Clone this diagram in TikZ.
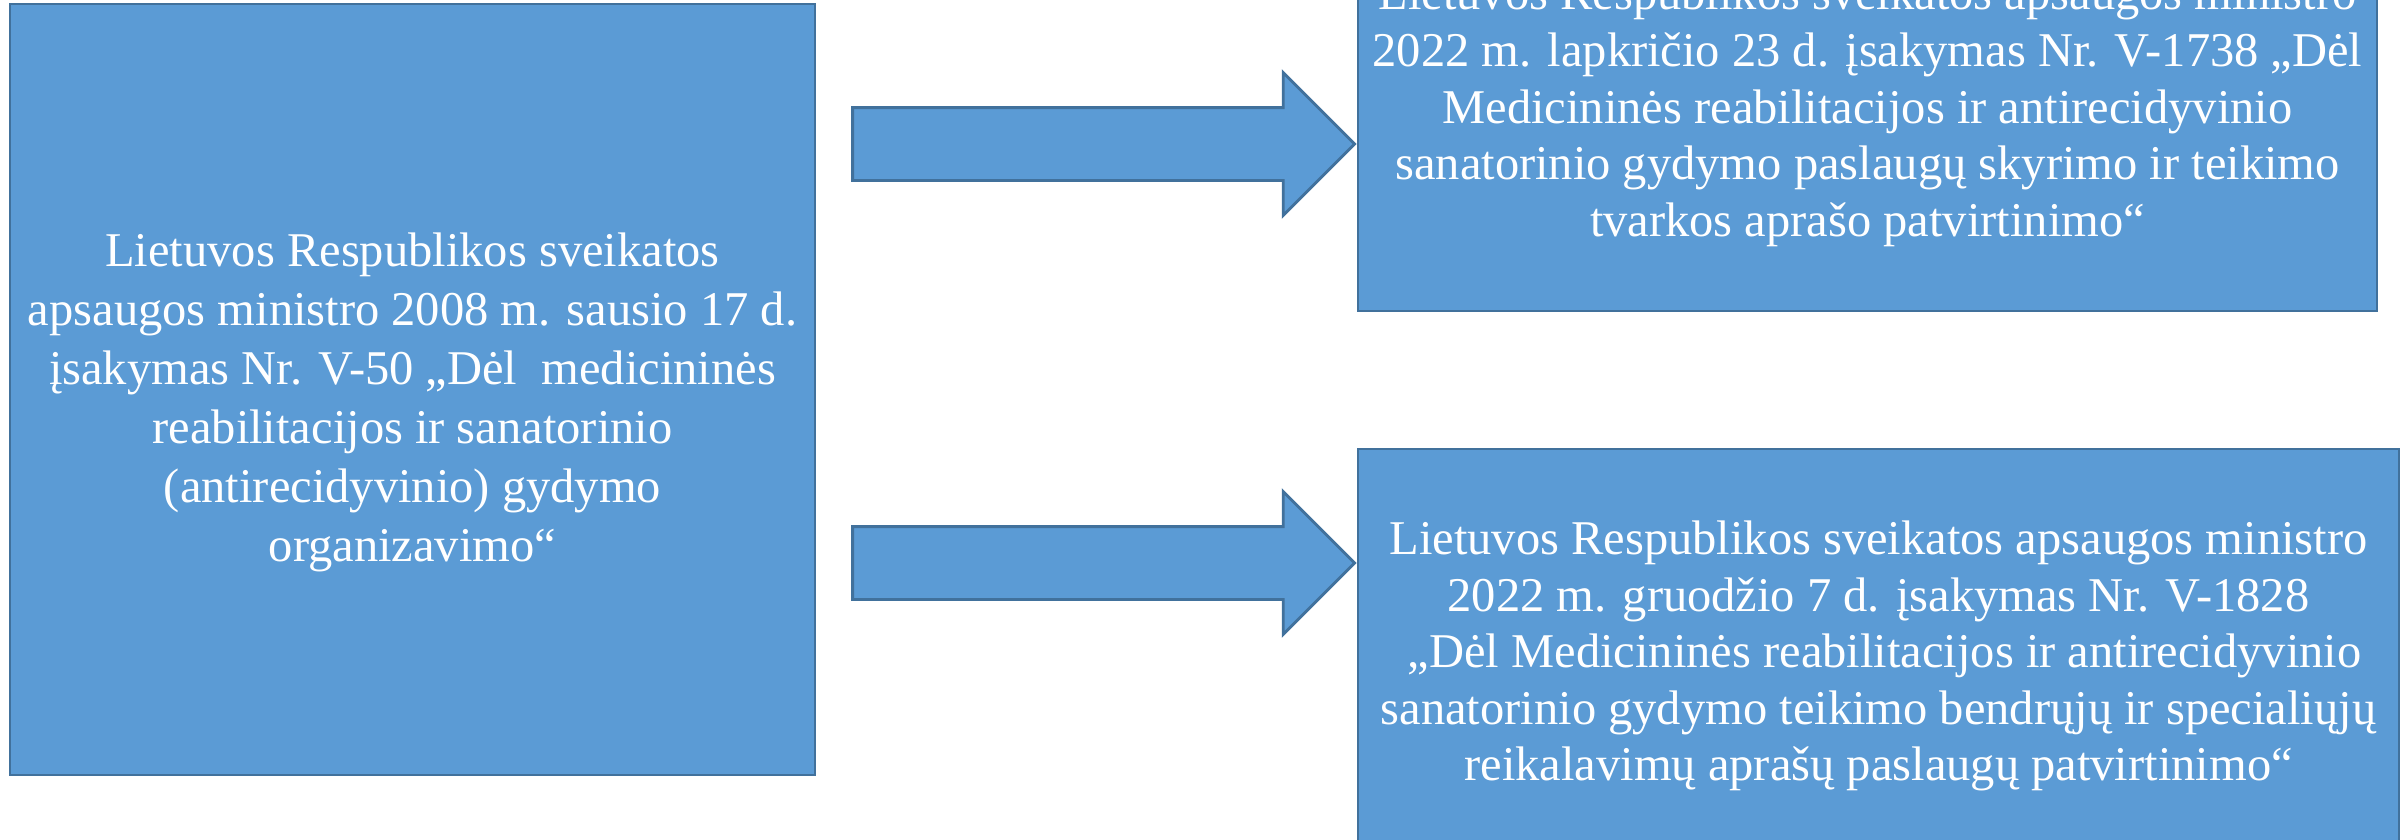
\documentclass[tikz,border=0pt]{standalone}
\usepackage{fontspec}
\setmainfont{Liberation Serif}
\usetikzlibrary{shapes.arrows, calc}
\definecolor{boxblue}{HTML}{5B9BD5}
\definecolor{boxline}{HTML}{41719C}
\tikzset{
    my-box/.style={
      draw=boxline, fill=boxblue, line width=0.8pt, inner sep=0pt
    },
    my-text/.style={
      text=white, align=center, inner sep=0pt
    },
    my-arrow/.style={
      single arrow, draw=boxline, fill=boxblue, line width=0.8pt,
      inner xsep=0pt, inner ysep=0.35cm, minimum height=5.02cm,
      minimum width=0pt, single arrow head extend=0.35cm
    },
}
\begin{document}
\begin{tikzpicture}

        % PAGE
        \useasboundingbox (0,0) rectangle (24.07,-8.40);
        \clip (0,0) rectangle (24.07,-8.40);

        % OLD ORDER
        \node[my-box, minimum width=8.05cm, minimum height=7.71cm] (OLD) at (4.125,-3.895) {};
        \node[my-text, font=\fontsize{13.8pt}{16.8pt}\selectfont] (OLDTEXT) at ($(OLD) + (0,-.13)$)
            {Lietuvos Respublikos sveikatos\\
             apsaugos ministro 2008 m. sausio 17 d.\\
             įsakymas Nr. V-50 „Dėl\ \ medicininės\\
             reabilitacijos ir sanatorinio\\
             (antirecidyvinio) gydymo\\
             organizavimo“};

        % NEW ORDERS
        \node[my-box, minimum width=10.19cm, minimum height=4.14cm] (NEW1) at (18.675,-1.04) {};
        \node[my-text, font=\fontsize{13.8pt}{16.1pt}\selectfont] (NEW1TEXT) at ($(NEW1) + (0,-.075)$)
            {Lietuvos Respublikos sveikatos apsaugos ministro\\
             2022 m. lapkričio 23 d. įsakymas Nr. V-1738 „Dėl\\
             Medicininės reabilitacijos ir antirecidyvinio\\
             sanatorinio gydymo paslaugų skyrimo ir teikimo\\
             tvarkos aprašo patvirtinimo“};

        \node[my-box, minimum width=10.41cm, minimum height=4.05cm] (NEW2) at (18.785,-6.515) {};
        \node[my-text, font=\fontsize{13.8pt}{16.1pt}\selectfont] (NEW2TEXT) at ($(NEW2) + (0,-.045)$)
            {Lietuvos Respublikos sveikatos apsaugos ministro\\
             2022 m. gruodžio 7 d. įsakymas Nr. V-1828\\
             \ „Dėl Medicininės reabilitacijos ir antirecidyvinio\\
             sanatorinio gydymo teikimo bendrųjų ir specialiųjų\\
             reikalavimų aprašų paslaugų patvirtinimo“};

        % ARROWS
        \node[my-arrow, anchor=tip] (ARROW1) at ($(NEW1.west |- 0,-1.44)$) {};
        \node[my-arrow, anchor=tip] (ARROW2) at ($(NEW2.west |- 0,-5.63)$) {};

\end{tikzpicture}
\end{document}
